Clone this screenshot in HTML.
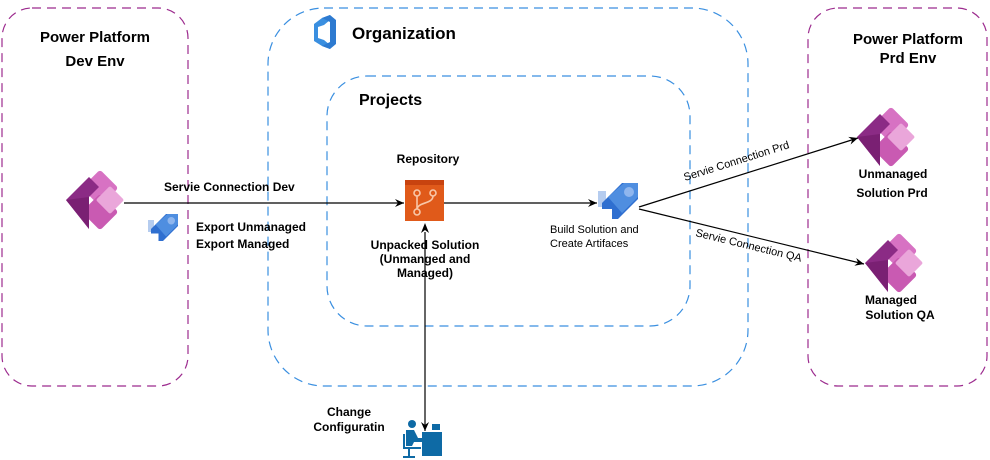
<!DOCTYPE html>
<html><head><meta charset="utf-8"><style>
html,body{margin:0;padding:0;background:#fff;}
svg{display:block;font-family:"Liberation Sans",Arial,sans-serif;}
</style></head><body>
<svg width="990" height="460" viewBox="0 0 990 460" xmlns="http://www.w3.org/2000/svg">
<defs>
<marker id="ah" markerWidth="10" markerHeight="10" refX="9" refY="5" orient="auto" markerUnits="userSpaceOnUse">
<path d="M0,1 L9,5 L0,9 L3,5 Z" fill="#000"/></marker>
<g id="pa">
<rect x="-13" y="-13" width="26" height="26" rx="3" fill="#d772c3" transform="translate(5,-12) rotate(45)"/>
<rect x="-13" y="-13" width="26" height="26" rx="3" fill="#c95ab2" transform="translate(5,12) rotate(45)"/>
<rect x="-10" y="-10" width="20" height="20" rx="2" fill="#eaa6da" transform="translate(15,0) rotate(45)"/>
<path d="M-29,0 L-6,-23 L4,-13 L-6,-3 L-6,29 Z" fill="#8b2b85"/>
<path d="M-29,0 L-6,23 L-6,29 L-2,31 L-6,29 Z" fill="#7f2279"/>
<path d="M-29,0 L-6,-3 L-6,27 Z" fill="#7a2073"/>
</g>
<g id="rocket">
<path d="M0,24 L0,8 L8,8 L8,16 L16,16 L16,24 Z" fill="#b5ccef"/>
<path d="M4,20 L24,0 L40,0 L40,16 L20,36 L14,36 L14,26 L4,26 Z" fill="#2f6fd0"/>
<path d="M10,14 L26,0 L40,0 L40,14 L24,30 Z" fill="#4f8ee0"/>
<circle cx="31" cy="9" r="5" fill="#8fb6ee"/>
</g>
</defs>

<rect x="2" y="8" width="186" height="378" rx="30" fill="none" stroke="#9c2b8e" stroke-width="1.2" stroke-dasharray="9,6"/>
<rect x="808" y="8" width="179" height="378" rx="30" fill="none" stroke="#9c2b8e" stroke-width="1.2" stroke-dasharray="9,6"/>
<rect x="268" y="8" width="480" height="378" rx="56" fill="none" stroke="#3a8fe0" stroke-width="1.2" stroke-dasharray="9,6"/>
<rect x="327" y="76" width="363" height="250" rx="40" fill="none" stroke="#3a8fe0" stroke-width="1.2" stroke-dasharray="9,6"/>

<text x="95" y="42" font-size="15" font-weight="bold" text-anchor="middle">Power Platform</text>
<text x="95" y="66" font-size="15" font-weight="bold" text-anchor="middle">Dev Env</text>
<text x="908" y="44" font-size="15" font-weight="bold" text-anchor="middle">Power Platform</text>
<text x="908" y="63" font-size="15" font-weight="bold" text-anchor="middle">Prd Env</text>

<path d="M314,24 L322,18 L330,15 L330,20 L324,25 L318,27 L318,38 L324,40 L330,45 L330,49 L322,46 L314,41 Z" fill="#3a8fe0"/>
<path d="M330,15 L336,20 L336,44 L330,49 L322,46 L330,42 L330,22 L322,18 Z" fill="#2d7ad0"/>
<text x="352" y="39" font-size="17" font-weight="bold">Organization</text>
<text x="359" y="105" font-size="16" font-weight="bold">Projects</text>

<use href="#pa" x="95" y="200"/>
<use href="#rocket" transform="translate(148,214) scale(0.75)"/>

<line x1="124" y1="203" x2="404" y2="203" stroke="#000" stroke-width="1.2" marker-end="url(#ah)"/>
<text x="164" y="191" font-size="12" font-weight="bold">Servie Connection Dev</text>
<text x="196" y="231" font-size="12" font-weight="bold">Export Unmanaged</text>
<text x="196" y="248" font-size="12" font-weight="bold">Export Managed</text>

<text x="428" y="163" font-size="12" font-weight="bold" text-anchor="middle">Repository</text>
<path d="M408,184 L412,180 L437,180 L441,184 L444,184 L444,221 L405,221 L405,184 Z" fill="#e05a1a"/>
<rect x="405" y="180" width="39" height="5" fill="#c8430f"/>
<g stroke="#f8c7a8" stroke-width="1.6" fill="none">
<circle cx="417" cy="193" r="3"/><circle cx="433" cy="193" r="3"/><circle cx="417" cy="212" r="3"/>
<line x1="417" y1="196" x2="417" y2="209"/><path d="M433,196 C433,204 418,202 417,209"/></g>
<text x="425" y="249" font-size="12" font-weight="bold" text-anchor="middle">Unpacked Solution</text>
<text x="425" y="263" font-size="12" font-weight="bold" text-anchor="middle">(Unmanged and</text>
<text x="425" y="277" font-size="12" font-weight="bold" text-anchor="middle">Managed)</text>

<line x1="444" y1="203" x2="597" y2="203" stroke="#000" stroke-width="1.2" marker-end="url(#ah)"/>
<use href="#rocket" transform="translate(598,183)"/>
<text x="550" y="233" font-size="11">Build Solution and</text>
<text x="550" y="247" font-size="11">Create Artifaces</text>

<line x1="639" y1="207" x2="858" y2="138" stroke="#000" stroke-width="1.2" marker-end="url(#ah)"/>
<line x1="639" y1="209" x2="864" y2="264" stroke="#000" stroke-width="1.2" marker-end="url(#ah)"/>
<text x="0" y="0" font-size="11" transform="translate(685,181) rotate(-17.5)">Servie Connection Prd</text>
<text x="0" y="0" font-size="11" transform="translate(695,236) rotate(13.7)">Servie Connection QA</text>

<use href="#pa" x="886" y="137"/>
<use href="#pa" x="894" y="263"/>
<text x="893" y="178" font-size="12" font-weight="bold" text-anchor="middle">Unmanaged</text>
<text x="892" y="197" font-size="12" font-weight="bold" text-anchor="middle">Solution Prd</text>
<text x="891" y="304" font-size="12" font-weight="bold" text-anchor="middle">Managed</text>
<text x="900" y="319" font-size="12" font-weight="bold" text-anchor="middle">Solution QA</text>

<line x1="425" y1="232" x2="425" y2="431" stroke="#000" stroke-width="1.2" marker-end="url(#ah)"/>
<path d="M425,223 L429,233 L425,230 L421,233 Z" fill="#000"/>

<text x="349" y="416" font-size="12" font-weight="bold" text-anchor="middle">Change</text>
<text x="349" y="431" font-size="12" font-weight="bold" text-anchor="middle">Configuratin</text>

<g fill="#0e6aa5">
<circle cx="412" cy="424" r="4"/>
<path d="M406,430 L414,430 L418,438 L424,438 L424,442 L414,442 L412,446 L406,446 Z"/>
<rect x="422" y="432" width="20" height="24"/>
<rect x="432" y="424" width="8" height="6"/>
<rect x="403" y="434" width="2" height="14"/>
<rect x="403" y="447" width="18" height="2"/>
<rect x="408" y="449" width="2" height="8"/>
<rect x="403" y="456" width="12" height="2"/>
</g>
</svg>
</body></html>
